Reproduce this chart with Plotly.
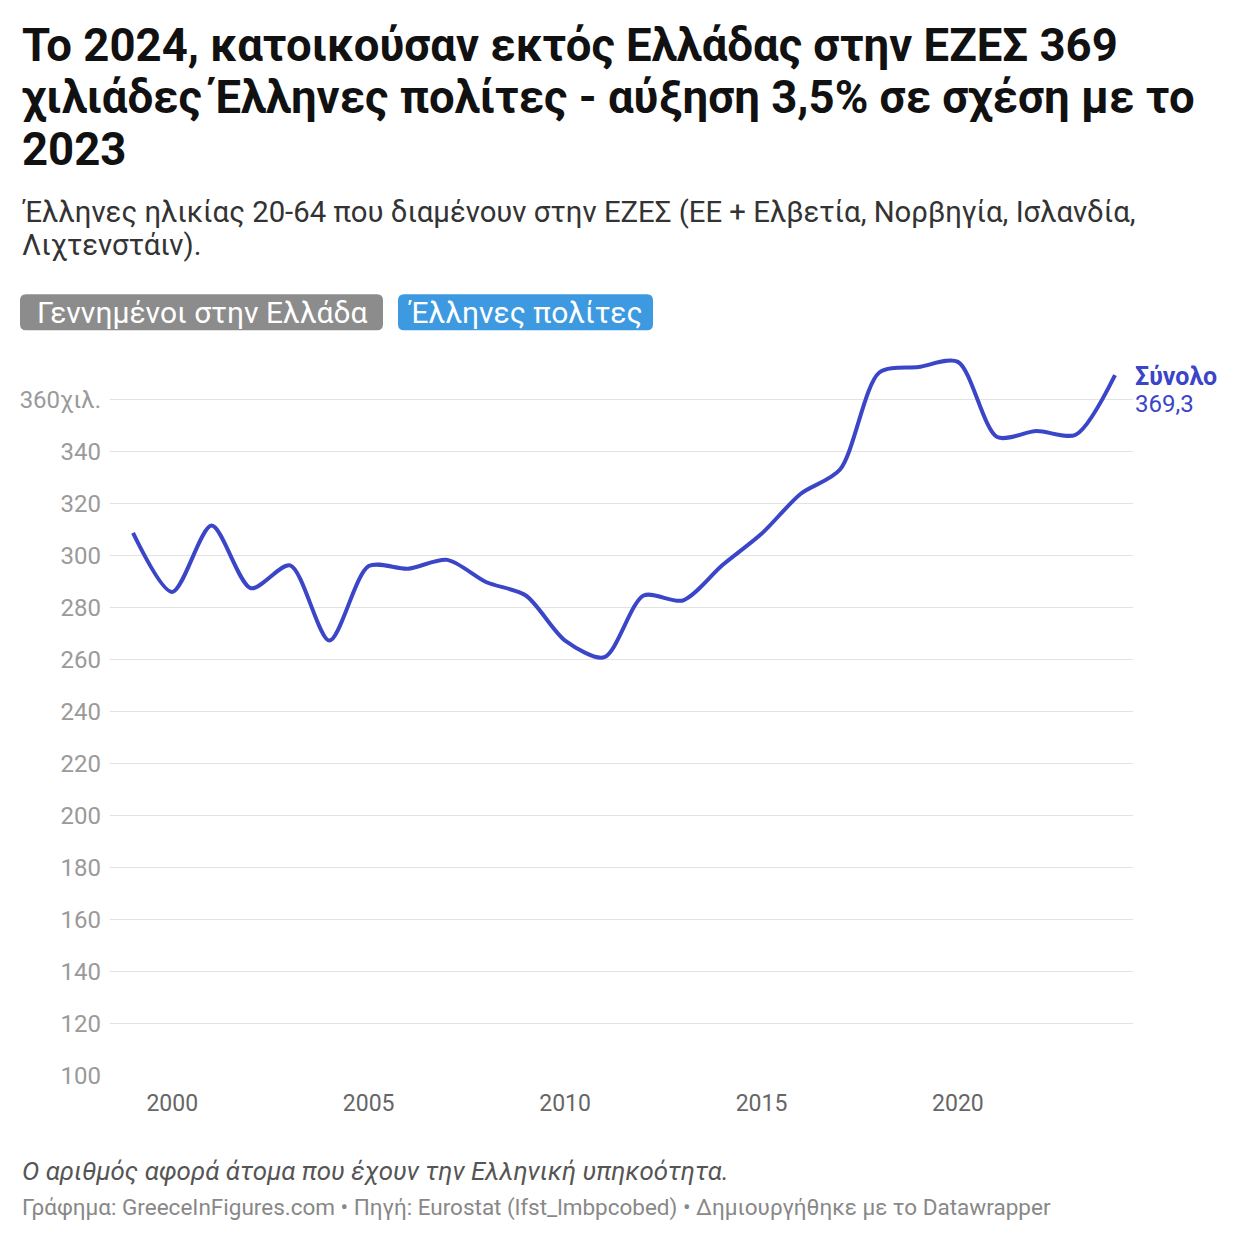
import plotly.graph_objects as go

# Έλληνες πολίτες 20-64 στην ΕΖΕΣ (χιλ.)
years = list(range(1999, 2025))
citizens = [308.7, 286.0, 311.5, 287.4, 296.2, 267.3, 295.9, 294.9, 298.3, 289.7,
            284.6, 267.3, 260.9, 284.6, 282.7, 296.2, 308.3, 323.7, 333.0, 370.3,
            372.4, 374.4, 345.5, 347.8, 346.4, 369.3]

y_ticks = [100, 120, 140, 160, 180, 200, 220, 240, 260, 280, 300, 320, 340, 360]
y_tick_text = [str(v) for v in y_ticks[:-1]] + ["360χιλ."]
x_ticks = [2000, 2005, 2010, 2015, 2020]

title_lines = [
    "Το 2024, κατοικούσαν εκτός Ελλάδας στην ΕΖΕΣ 369",
    "χιλιάδες Έλληνες πολίτες - αύξηση 3,5% σε σχέση με το",
    "2023",
]
subtitle_lines = [
    "Έλληνες ηλικίας 20-64 που διαμένουν στην ΕΖΕΣ (ΕΕ + Ελβετία, Νορβηγία, Ισλανδία,",
    "Λιχτενστάιν).",
]
buttons = ["Γεννημένοι στην Ελλάδα", "Έλληνες πολίτες"]
note = "Ο αριθμός αφορά άτομα που έχουν την Ελληνική υπηκοότητα."
source = "Γράφημα: GreeceInFigures.com • Πηγή: Eurostat (lfst_lmbpcobed) • Δημιουργήθηκε με το Datawrapper"

W = 1224   # page has an 8px body margin, keep the whole figure inside the window
H_EFF = 1209  # vertical size as it ends up in the screenshot
OFF = 8
LINE = "#3a45c8"
FONT = "Roboto"


def px(v):
    return (v - OFF) / W


def py(v):
    return 1 - (v - OFF) / H_EFF


def rounded(x0, y0, x1, y1, r=6):
    # rounded rect in paper coords
    a, b, c, d = px(x0), py(y1), px(x1), py(y0)
    rx, ry = r / W, r / H_EFF
    return (f"M {a+rx},{b} L {c-rx},{b} Q {c},{b} {c},{b+ry} L {c},{d-ry} Q {c},{d} {c-rx},{d} "
            f"L {a+rx},{d} Q {a},{d} {a},{d-ry} L {a},{b+ry} Q {a},{b} {a+rx},{b} Z")


def text_at(x, y, text, size, color, anchor="left"):
    return dict(x=px(x), y=py(y), xref="paper", yref="paper", xanchor=anchor, yanchor="middle",
                text=text, showarrow=False, font=dict(family=FONT, size=size, color=color))


fig = go.Figure()
fig.add_trace(go.Scatter(
    x=years, y=citizens, mode="lines",
    line=dict(color=LINE, width=4, shape="spline", smoothing=0.8),
    hoverinfo="x+y", showlegend=False,
))

annotations = []
for i, t in enumerate(title_lines):
    annotations.append(text_at(20, 45 + i * 52, f"<b>{t}</b>", 45.5, "#111111"))
for i, t in enumerate(subtitle_lines):
    annotations.append(text_at(20, 212 + i * 33, t, 29.3, "#333333"))

shapes = []
btn_boxes = [(20, 294, 383, 330, "#8c8c8c"), (398, 294, 653, 330, "#3d9ae0")]
for (x0, y0, x1, y1, col), label in zip(btn_boxes, buttons):
    shapes.append(dict(type="path", path=rounded(x0, y0, x1, y1), xref="paper", yref="paper",
                       fillcolor=col, line=dict(width=0), layer="below"))
    annotations.append(text_at((x0 + x1) / 2, (y0 + y1) / 2, label, 30, "white", anchor="center"))

# end label
annotations.append(dict(
    x=years[-1], y=citizens[-1], xref="x", yref="y", xanchor="left", yanchor="middle",
    xshift=18, yshift=-1, showarrow=False, text="<b>Σύνολο</b>",
    font=dict(family=FONT, size=25, color=LINE),
))
annotations.append(dict(
    x=years[-1], y=citizens[-1], xref="x", yref="y", xanchor="left", yanchor="middle",
    xshift=18, yshift=-29, showarrow=False, text=f"{citizens[-1]:.1f}".replace(".", ","),
    font=dict(family=FONT, size=24, color=LINE),
))

annotations.append(text_at(20, 1170, f"<i>{note}</i>", 25.9, "#555555"))
annotations.append(text_at(20, 1207, source, 22.5, "#888888"))

fig.update_layout(
    width=W, height=W,
    margin=dict(l=0, r=0, t=0, b=0),
    paper_bgcolor="white", plot_bgcolor="white",
    font=dict(family=FONT),
    annotations=annotations,
    shapes=shapes,
    xaxis=dict(
        domain=[px(110), px(1133)], range=[1998.414, 2024.458],
        tickvals=x_ticks, ticktext=[str(v) for v in x_ticks],
        showgrid=False, zeroline=False, showline=False, ticks="",
        ticklabelstandoff=11,
        tickfont=dict(family=FONT, size=23, color="#666666"),
    ),
    yaxis=dict(
        domain=[py(1075), py(1075 - 280 * 2.6)], range=[100, 380],
        tickvals=y_ticks, ticktext=y_tick_text,
        showgrid=True, gridcolor="#e2e2e2", gridwidth=1.2,
        zeroline=False, showline=False, ticks="",
        ticklabelstandoff=8,
        tickfont=dict(family=FONT, size=24, color="#9a9a9a"),
    ),
)

fig.write_html("out.html")
